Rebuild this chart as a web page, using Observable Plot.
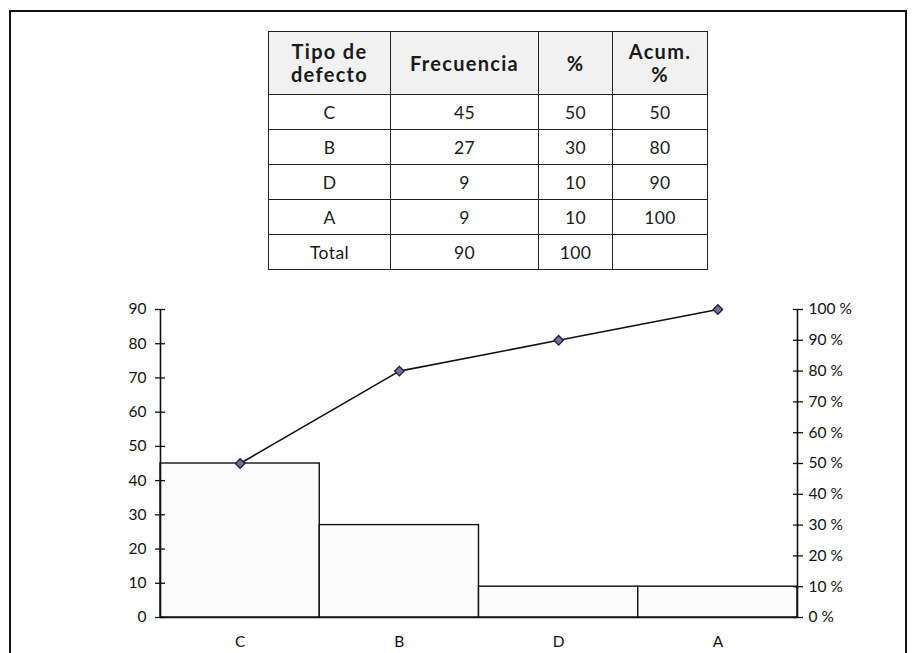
<!DOCTYPE html>
<html>
<head>
<meta charset="utf-8">
<script src="https://cdn.jsdelivr.net/npm/d3@7"></script>
<script src="https://cdn.jsdelivr.net/npm/@observablehq/plot@0.6"></script>
<style>
  html, body { margin: 0; padding: 0; background: #fff; overflow: hidden; width: 915px; height: 653px; }
  body { font-family: Lato, "Open Sans", sans-serif; color: #111; position: relative; }
  #marco {
    position: absolute; left: 9px; top: 10px; width: 898px; height: 700px;
    box-sizing: border-box; border: 2px solid #111; border-bottom: none;
  }
  #tabla {
    position: absolute; left: 268px; top: 31px;
    border-collapse: collapse; table-layout: fixed;
  }
  #tabla td, #tabla th {
    border: 1.6px solid #222; text-align: center; padding: 0;
    font-size: 17.5px; font-weight: 400; color: #1a1a1a; letter-spacing: 0.4px;
  }
  #tabla th {
    background: #f1f1f1; font-weight: 700; font-size: 20px; line-height: 23px;
    height: 62px; letter-spacing: 1.3px;
  }
  #tabla td { height: 34px; }
  #grafico { position: absolute; left: 0; top: 290px; }
</style>
</head>
<body>
<div id="marco"></div>
<table id="tabla"></table>
<div id="grafico"></div>
<script>
// Defect types ordered by frequency (Pareto order)
const categorias = ["C", "B", "D", "A"];
const frecuencias = [45, 27, 9, 9];
const porcentajes = [50, 30, 10, 10];
const acumulados = [50, 80, 90, 100];
const totalFrecuencia = 90;
const totalPorcentaje = 100;

// Column headings of the summary table
const encabezados = [["Tipo de", "defecto"], ["Frecuencia"], ["%"], ["Acum.", "%"]];
const anchosColumna = [122, 148, 74, 95];

// Axis tick values
const ticksFrecuencia = [0, 10, 20, 30, 40, 50, 60, 70, 80, 90];
const ticksAcumulado = [0, 10, 20, 30, 40, 50, 60, 70, 80, 90, 100];

const datos = categorias.map((c, i) => ({
  categoria: c,
  indice: i,
  frecuencia: frecuencias[i],
  porcentaje: porcentajes[i],
  acumulado: acumulados[i]
}));

// Summary table
const tabla = document.getElementById("tabla");
const colgroup = document.createElement("colgroup");
anchosColumna.forEach(w => {
  const col = document.createElement("col");
  col.style.width = w + "px";
  colgroup.appendChild(col);
});
tabla.appendChild(colgroup);
const filaEnc = document.createElement("tr");
encabezados.forEach(lineas => {
  const th = document.createElement("th");
  th.innerHTML = lineas.join("<br>");
  filaEnc.appendChild(th);
});
tabla.appendChild(filaEnc);
const filas = datos.map(d => [d.categoria, d.frecuencia, d.porcentaje, d.acumulado])
  .concat([["Total", totalFrecuencia, totalPorcentaje, ""]]);
filas.forEach(f => {
  const tr = document.createElement("tr");
  f.forEach(v => {
    const td = document.createElement("td");
    td.textContent = v;
    tr.appendChild(td);
  });
  tabla.appendChild(tr);
});

// Pareto chart: frequency bars on the left scale, cumulative % line on the right
const maxFrecuencia = totalFrecuencia;
const aEscala = p => p * maxFrecuencia / 100;

const chart = Plot.plot({
  width: 915,
  height: 363,
  marginLeft: 160,
  marginRight: 118,
  marginTop: 19,
  marginBottom: 36,
  style: { fontFamily: "Lato, 'Open Sans', sans-serif", fontSize: "15px", color: "#111", background: "transparent" },
  x: { type: "linear", domain: [0, categorias.length] },
  y: { domain: [0, maxFrecuencia] },
  marks: [
    Plot.rectY(datos, {
      x1: d => d.indice, x2: d => d.indice + 1, y: "frecuencia",
      fill: "#fbfbfb", stroke: "#111", strokeWidth: 1.4
    }),
    Plot.ruleY([0], { stroke: "#111", strokeWidth: 1.6 }),
    Plot.ruleX([0, categorias.length], { stroke: "#111", strokeWidth: 1.6 }),
    Plot.axisY(ticksFrecuencia, {
      anchor: "left", label: null, tickSize: 10, dx: 5, tickPadding: 9, strokeWidth: 1.3,
      fontSize: 15.5
    }),
    Plot.axisY(ticksAcumulado.map(aEscala), {
      anchor: "right", label: null, tickSize: 10, dx: -5, tickPadding: 6, strokeWidth: 1.3,
      fontSize: 15.5, tickFormat: v => `${Math.round(v * 100 / maxFrecuencia)} %`
    }),
    Plot.axisX(datos.map(d => d.indice + 0.5), {
      label: null, tickSize: 0, tickPadding: 18, fontSize: 15.5,
      tickFormat: v => categorias[Math.floor(v)]
    }),
    Plot.line(datos, {
      x: d => d.indice + 0.5, y: d => aEscala(d.acumulado),
      stroke: "#111", strokeWidth: 1.6
    }),
    Plot.dot(datos, {
      x: d => d.indice + 0.5, y: d => aEscala(d.acumulado),
      symbol: "square", rotate: 45, r: 3.8, fill: "#6f7592", stroke: "#1c1f3d", strokeWidth: 1.3
    })
  ]
});
document.getElementById("grafico").appendChild(chart);
</script>
</body>
</html>
